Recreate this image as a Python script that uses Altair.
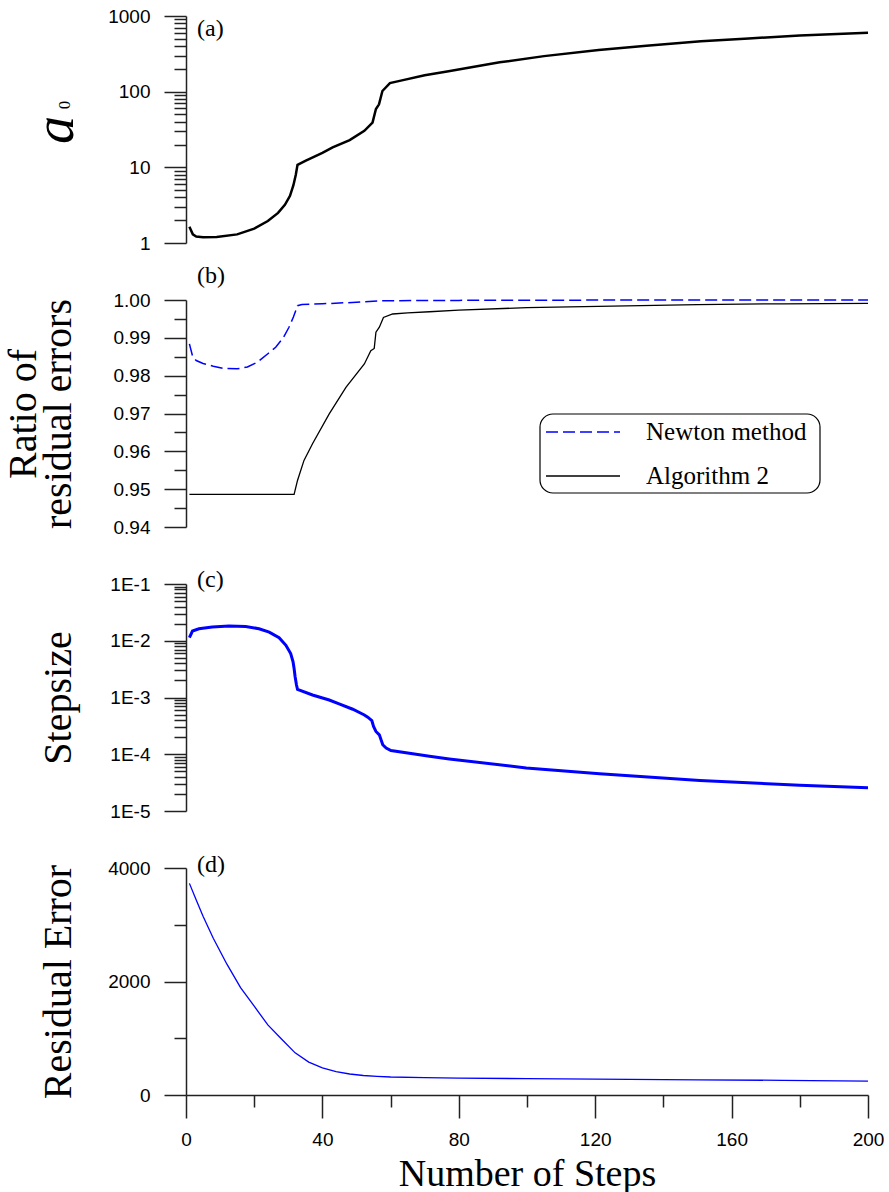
import altair as alt
import pandas as pd

SANS = "Liberation Sans"
SERIF = "Liberation Serif"
W, H = 682, 227

# ---------------- data ----------------
# (a) a_0
a_steps = [1, 2, 3, 5, 9, 15, 20, 24, 27, 29, 30.5, 31.5, 32.2, 32.7, 35, 40, 43, 48,
           52.3, 54.7, 55.7, 56.6, 57.6, 59.8, 63, 70, 77, 92, 105, 121, 135, 151, 165, 180, 200]
a_vals = [1.64, 1.30, 1.22, 1.19, 1.20, 1.30, 1.55, 1.95, 2.5, 3.2, 4.2, 5.8, 8.0, 10.8, 12.2,
          15.5, 18.3, 22.9, 30.4, 39.0, 59.0, 68.0, 102.0, 130.0, 140.0, 165.0, 186.0, 244.0,
          295.0, 355.0, 405.0, 464.0, 505.0, 552.0, 599.0]

# (b) ratio of residual errors
newton_steps = [1, 2, 3, 5, 8, 11, 15, 18, 21, 24, 26.3, 28.5, 30.2, 31.5, 32.7, 34, 40, 50,
                57, 80, 100, 150, 200]
newton_vals = [0.9884, 0.9849, 0.9840, 0.9832, 0.9825, 0.9819, 0.9818, 0.9823, 0.9836, 0.9858,
               0.9875, 0.9900, 0.9928, 0.9955, 0.9985, 0.9988, 0.9990, 0.9994, 0.9998, 0.9999,
               0.99995, 1.0000, 1.0000]
alg_steps = [1, 31.7, 32.7, 34.6, 37.1, 42, 46.9, 52.3, 54.2, 55.2, 55.7, 56.7, 57.9, 60.6,
             65, 71.4, 80, 100, 125, 150, 175, 200]
alg_vals = [0.9486, 0.9486, 0.9523, 0.9576, 0.9620, 0.9699, 0.9769, 0.9831, 0.9866, 0.9872,
            0.9915, 0.9928, 0.9954, 0.9963, 0.9966, 0.9969, 0.9973, 0.9980, 0.9984, 0.9988,
            0.9990, 0.9991]

# (c) stepsize
c_steps = [1, 1.9, 3.8, 7.7, 12.6, 17.5, 21.4, 24.4, 27.3, 29.3, 30.7, 31.4, 31.7, 32.0, 32.4,
           32.7, 37.1, 42.0, 44.9, 48.9, 52.3, 53.3, 54.5, 55.0, 55.7, 56.7, 57.2, 57.7, 58.7,
           60.1, 66.5, 71.4, 77.2, 99.8, 121.3, 150.7, 180, 200]
c_vals = [0.01132, 0.01481, 0.01627, 0.01740, 0.01811, 0.01787, 0.01627, 0.01422, 0.01132,
          0.00830, 0.00594, 0.00424, 0.00324, 0.00232, 0.001656, 0.00139, 0.001106, 0.000904,
          0.000769, 0.000621, 0.000493, 0.000450, 0.000393, 0.000308, 0.000252, 0.000220,
          0.000180, 0.000147, 0.000129, 0.000116, 0.000102, 0.0000920, 0.0000826, 0.0000575,
          0.0000452, 0.0000345, 0.0000285, 0.0000257]

# (d) residual error
d_steps = [1, 3, 5, 8, 12, 16, 20, 24, 28, 32, 36, 40, 44, 48, 52, 56, 60, 70, 80, 100, 120,
           150, 175, 200]
d_vals = [3729, 3434, 3150, 2762, 2305, 1892, 1565, 1235, 986, 743, 580, 477, 411, 370, 344,
          328, 317, 305, 298, 288, 280, 268, 258, 246]

# axis tick values
x_major = [0, 40, 80, 120, 160, 200]
x_minor = [20, 60, 100, 140, 180]
a_major = [1, 10, 100, 1000]
a_minor = [m * d for d in (1, 10, 100) for m in range(2, 10)]
b_major = [0.94, 0.95, 0.96, 0.97, 0.98, 0.99, 1.00]
b_minor = [0.945, 0.955, 0.965, 0.975, 0.985, 0.995]
c_major = [1e-5, 1e-4, 1e-3, 1e-2, 1e-1]
c_minor = [m * d for d in (1e-5, 1e-4, 1e-3, 1e-2) for m in range(2, 10)]
d_major = [0, 2000, 4000]
d_minor = [1000, 3000]

legend_labels = ["Newton method", "Algorithm 2"]
panel_labels = ["(a)", "(b)", "(c)", "(d)"]

# ---------------- helpers ----------------
xs = alt.Scale(domain=[0, 200], nice=False, zero=False)
one = alt.Data(values=[{"k": 0}])


def xfield(axis=None):
    if axis is None:
        return alt.X("step:Q", scale=xs, axis=None)
    return alt.X("step:Q", scale=xs, axis=axis)


def minor_y(df, scale, values):
    return alt.Chart(df).mark_line(opacity=0).encode(
        x=xfield(),
        y=alt.Y("val:Q", scale=scale,
                axis=alt.Axis(orient="left", values=values, labels=False, domain=False,
                              tickSize=12, title=None)))


def plabel(text, y):
    return alt.Chart(one).mark_text(text=text, font=SERIF, fontSize=24, align="left",
                                    baseline="middle", color="black").encode(
        x=alt.value(11), y=alt.value(y))


# invisible anchor that fixes the top-left corner of the page relative to panel (a)
anchor = alt.Chart(one).mark_rule(opacity=0, strokeWidth=0).encode(
    x=alt.value(-186), x2=alt.value(-185), y=alt.value(-16), y2=alt.value(-16))

# ---------------- panel (a) ----------------
a_df = pd.DataFrame({"step": a_steps, "val": a_vals})
a_scale = alt.Scale(type="log", domain=[1, 1000], nice=False)
a_line = alt.Chart(a_df).mark_line(color="black", strokeWidth=2.5).encode(
    x=xfield(),
    y=alt.Y("val:Q", scale=a_scale,
            axis=alt.Axis(orient="left", values=a_major, format="d", tickSize=22,
                          labelPadding=14, title="a", titleFontStyle="italic",
                          titleFontSize=56, titleBaseline="alphabetic", titleX=-114,
                          titleAngle=270)))
a_sub = alt.Chart(one).mark_text(text="0", font=SERIF, fontSize=17, angle=270,
                                 color="black").encode(x=alt.value(-121), y=alt.value(89))
pa = alt.layer(minor_y(a_df, a_scale, a_minor), a_line, plabel(panel_labels[0], 13),
               a_sub, anchor).resolve_axis(y="independent").properties(width=W, height=H)

# ---------------- panel (b) ----------------
n_df = pd.DataFrame({"step": newton_steps, "val": newton_vals})
g_df = pd.DataFrame({"step": alg_steps, "val": alg_vals})
b_scale = alt.Scale(domain=[0.94, 1.0], nice=False, zero=False)
b_newton = alt.Chart(n_df).mark_line(color="#0000ff", strokeWidth=1.5, strokeDash=[12, 5]).encode(
    x=xfield(),
    y=alt.Y("val:Q", scale=b_scale,
            axis=alt.Axis(orient="left", values=b_major, format=".2f", tickSize=22,
                          labelPadding=14, title=["Ratio of", "residual errors"],
                          titleFontSize=40, titleLineHeight=35, titleBaseline="alphabetic",
                          titleX=-151, titleAngle=270)))
b_alg = alt.Chart(g_df).mark_line(color="black", strokeWidth=1.3).encode(
    x=xfield(), y=alt.Y("val:Q", scale=b_scale, axis=None))
leg_box = alt.Chart(one).mark_rect(fillOpacity=0, stroke="black", strokeWidth=1.2,
                                   cornerRadius=13).encode(
    x=alt.value(354), x2=alt.value(634), y=alt.value(114), y2=alt.value(193))
leg_l1 = alt.Chart(one).mark_rule(color="#0000ff", strokeWidth=1.5, strokeDash=[12, 5]).encode(
    x=alt.value(360), x2=alt.value(434), y=alt.value(132))
leg_l2 = alt.Chart(one).mark_rule(color="black", strokeWidth=1.3).encode(
    x=alt.value(360), x2=alt.value(434), y=alt.value(176))
leg_t1 = alt.Chart(one).mark_text(text=legend_labels[0], font=SERIF, fontSize=25, align="left",
                                  baseline="middle", color="black").encode(
    x=alt.value(460), y=alt.value(132))
leg_t2 = alt.Chart(one).mark_text(text=legend_labels[1], font=SERIF, fontSize=25, align="left",
                                  baseline="middle", color="black").encode(
    x=alt.value(460), y=alt.value(176))
pb = alt.layer(minor_y(n_df, b_scale, b_minor), b_newton, b_alg, leg_box, leg_l1, leg_l2,
               leg_t1, leg_t2, plabel(panel_labels[1], -24)).resolve_axis(
    y="independent").properties(width=W, height=H)

# ---------------- panel (c) ----------------
c_df = pd.DataFrame({"step": c_steps, "val": c_vals})
c_scale = alt.Scale(type="log", domain=[1e-5, 1e-1], nice=False)
c_line = alt.Chart(c_df).mark_line(color="#0000ff", strokeWidth=3).encode(
    x=xfield(),
    y=alt.Y("val:Q", scale=c_scale,
            axis=alt.Axis(orient="left", values=c_major, tickSize=22, labelPadding=14,
                          labelExpr="'1E' + round(log(datum.value) / LN10)",
                          title="Stepsize", titleFontSize=40, titleBaseline="alphabetic",
                          titleX=-116, titleAngle=270)))
pc = alt.layer(minor_y(c_df, c_scale, c_minor), c_line, plabel(panel_labels[2], -4)).resolve_axis(
    y="independent").properties(width=W, height=H)

# ---------------- panel (d) ----------------
d_df = pd.DataFrame({"step": d_steps, "val": d_vals})
d_scale = alt.Scale(domain=[0, 4000], nice=False, zero=False)
d_line = alt.Chart(d_df).mark_line(color="#0000ff", strokeWidth=1.3).encode(
    x=xfield(alt.Axis(orient="bottom", values=x_major, format="d", tickSize=23,
                      labelPadding=12, labelFlush=False, title="Number of Steps",
                      titleFontSize=38, titleBaseline="alphabetic", titleY=90)),
    y=alt.Y("val:Q", scale=d_scale,
            axis=alt.Axis(orient="left", values=d_major, format="d", tickSize=22,
                          labelPadding=14, title="Residual Error", titleFontSize=40,
                          titleBaseline="alphabetic", titleX=-116, titleAngle=270)))
d_minor_x = alt.Chart(d_df).mark_line(opacity=0).encode(
    x=xfield(alt.Axis(orient="bottom", values=x_minor, labels=False, domain=False,
                      tickSize=12, title=None)),
    y=alt.Y("val:Q", scale=d_scale,
            axis=alt.Axis(orient="left", values=d_minor, labels=False, domain=False,
                          tickSize=12, title=None)))
pd_ = alt.layer(d_minor_x, d_line, plabel(panel_labels[3], -3)).resolve_axis(
    x="independent", y="independent").properties(width=W, height=H)

chart = alt.vconcat(pa, pb, pc, pd_, spacing=57, bounds="flush").properties(
    padding=0,
).configure_view(strokeWidth=0).configure_axis(
    labelFont=SANS, labelFontSize=19, labelColor="black",
    domainColor="#222222", tickColor="#222222", domainWidth=1.5, tickWidth=1.5,
    titleFont=SERIF, titleFontWeight="normal", titleColor="black", grid=False,
)

chart.save("out.html", embed_options={"renderer": "svg", "actions": False})
